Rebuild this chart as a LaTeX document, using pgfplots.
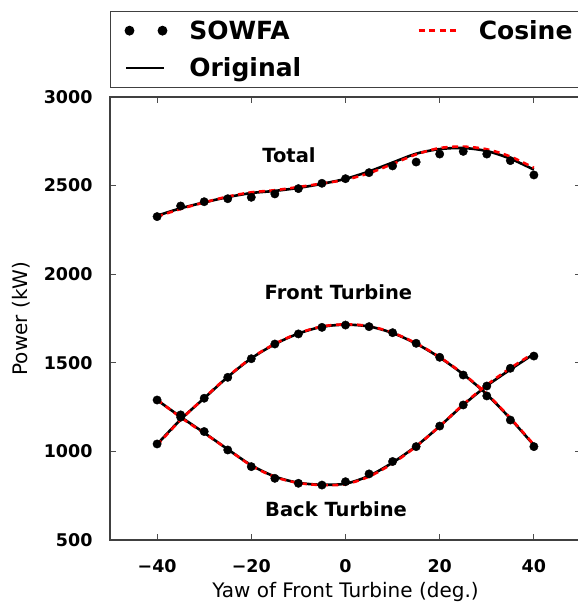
\documentclass[border=0pt]{standalone}
\usepackage{pgfplots}
\pgfplotsset{compat=1.18}
\usepackage{pgfplotstable}
\usepackage{fontspec}
\setmainfont{DejaVu Sans}

% SOWFA samples, 5 deg steps
\pgfplotstableread{
yaw total front back
-40 2325 1042 1290
-35 2385 1193 1206
-30 2409 1300 1112
-25 2426 1418 1008
-20 2434 1523 914
-15 2453 1606 848
-10 2483 1663 820
-5 2513 1700 810
0 2539 1713 829
5 2573 1704 873
10 2611 1670 943
15 2633 1610 1027
20 2678 1531 1143
25 2693 1431 1262
30 2678 1313 1369
35 2641 1177 1469
40 2560 1027 1538
}\sowfa

\pgfplotstableread{
yaw total front back
-40 2330 1040 1290
-35 2372 1180 1195
-30 2405 1300 1105
-25 2435 1420 1012
-20 2458 1525 922
-15 2470 1605 858
-10 2487 1665 823
-5 2510 1703 812
0 2538 1715 818
5 2580 1705 862
10 2630 1668 937
15 2680 1608 1030
20 2706 1530 1142
25 2712 1435 1262
30 2695 1322 1370
35 2652 1185 1462
40 2590 1035 1550
}\orig

\pgfplotstableread{
yaw total front back
-40 2325 1035 1292
-35 2368 1178 1192
-30 2405 1302 1103
-25 2438 1422 1012
-20 2462 1527 920
-15 2474 1607 856
-10 2492 1667 822
-5 2512 1705 810
0 2533 1717 815
5 2570 1707 858
10 2622 1670 932
15 2676 1610 1028
20 2712 1532 1142
25 2720 1437 1265
30 2705 1325 1375
35 2664 1188 1470
40 2600 1038 1555
}\cosine

\begin{document}
\begin{tikzpicture}
\begin{axis}[
  name=ax,
  scale only axis,
  width=471pt, height=443pt,
  xmin=-50, xmax=50,
  ymin=500, ymax=3000,
  xtick={-40,-20,0,20,40},
  xticklabels={−40,−20,0,20,40},
  ytick={500,1000,1500,2000,2500,3000},
  yticklabels={500,1000,1500,2000,2500,3000},
  tick align=inside,
  major tick length=6pt,
  tick style={line width=1pt, black!70},
  axis line style={line width=1.2pt, black!75},
  ticklabel style={font=\fontsize{17.5}{20}\selectfont\bfseries},
  xticklabel style={yshift=-16pt},
  yticklabel style={xshift=-14pt},
  xlabel={Yaw of Front Turbine (deg.)},
  ylabel={Power (kW)},
  label style={font=\fontsize{20}{24}\selectfont},
  xlabel style={yshift=-3pt},
  ylabel style={yshift=7pt},
  legend columns=2,
  legend cell align=left,
  legend style={
    at={(0,1)}, anchor=south west, yshift=9pt,
    draw=black!75, line width=1.2pt,
    font=\fontsize{25}{28}\selectfont\bfseries,
    inner xsep=14pt, inner ysep=7pt,
    row sep=13pt,
    /tikz/every odd column/.append style={column sep=20pt},
    /tikz/every even column/.append style={column sep=114pt},
  },
  legend image code/.code={\draw[#1] (0pt,0pt) -- (37pt,0pt);},
]
\addlegendimage{legend image code/.code={
  \fill[black] (3pt,0pt) circle (4.3pt);
  \fill[black] (36pt,0pt) circle (4.3pt);}}
\addlegendentry{SOWFA}
\addlegendimage{red, line width=2.5pt, dash pattern=on 6pt off 4.5pt}
\addlegendentry{Cosine}
\addlegendimage{black, line width=2.5pt}
\addlegendentry{Original}

\foreach \c in {total,front,back}{
  \addplot[only marks, mark=*, mark size=4.2pt, black, forget plot] table[x=yaw, y=\c] {\sowfa};
  \addplot[black, line width=2.6pt, smooth, tension=0.5, forget plot] table[x=yaw, y=\c] {\orig};
  \addplot[red, line width=2.6pt, dash pattern=on 6pt off 4.5pt, smooth, tension=0.5, forget plot] table[x=yaw, y=\c] {\cosine};
}

\node[font=\fontsize{19.5}{22}\selectfont\bfseries] at (axis cs:-12,2673) {Total};
\node[font=\fontsize{19.5}{22}\selectfont\bfseries] at (axis cs:-1.5,1900) {Front Turbine};
\node[font=\fontsize{19.5}{22}\selectfont\bfseries] at (axis cs:-2,675) {Back Turbine};
\end{axis}
\pgfresetboundingbox
\path[use as bounding box] ([shift={(-110pt,-65pt)}]ax.south west) rectangle ([shift={(468pt,540pt)}]ax.south west);
\end{tikzpicture}
\end{document}
